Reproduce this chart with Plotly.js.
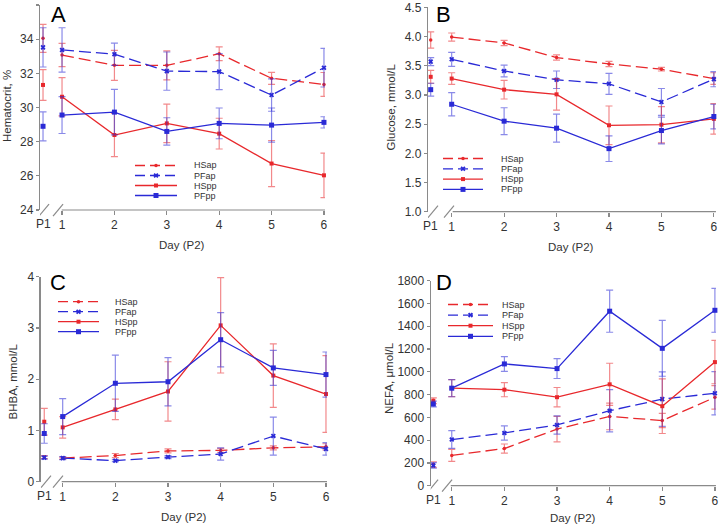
<!DOCTYPE html>
<html><head><meta charset="utf-8">
<script src="https://cdn.plot.ly/plotly-3.0.1.min.js"></script>
<style>html,body{margin:0;padding:0;background:#fff}#chart{width:720px;height:527px}</style>
</head><body><div id="chart"></div>
<script>
// ---------- data ----------
const days = [1, 2, 3, 4, 5, 6];
const dayLabels = ['1', '2', '3', '4', '5', '6'];
const p1Label = 'P1';
const seriesNames = ['HSap', 'PFap', 'HSpp', 'PFpp'];
// first value = P1, then days 1..6 of P2 ; *_se = error bar half-length
// Panel A: Hematocrit, %
const A_HSap = [34.05, 33.07, 32.47, 32.47, 33.15, 31.71, 31.35];
const A_HSap_se = [0.82, 0.68, 0.88, 0.85, 0.40, 0.35, 0.70];
const A_PFap = [33.52, 33.37, 33.12, 32.13, 32.10, 30.73, 32.33];
const A_PFap_se = [1.15, 1.30, 0.65, 1.12, 1.05, 0.95, 1.13];
const A_HSpp = [31.32, 30.63, 28.39, 29.07, 28.47, 26.72, 26.03];
const A_HSpp_se = [0.90, 1.12, 1.27, 1.13, 0.90, 1.35, 1.30];
const A_PFpp = [28.90, 29.56, 29.73, 28.60, 29.07, 28.97, 29.13];
const A_PFpp_se = [0.85, 1.08, 1.33, 0.80, 0.90, 1.00, 0.33];
// Panel B: Glucose, mmol/L
const B_HSap = [3.94, 3.99, 3.89, 3.64, 3.53, 3.44, 3.28];
const B_HSap_se = [0.14, 0.07, 0.045, 0.045, 0.045, 0.03, 0.10];
const B_PFap = [3.57, 3.61, 3.41, 3.26, 3.19, 2.88, 3.27];
const B_PFap_se = [0.07, 0.12, 0.10, 0.15, 0.18, 0.23, 0.13];
const B_HSpp = [3.31, 3.28, 3.09, 3.01, 2.48, 2.49, 2.59];
const B_HSpp_se = [0.11, 0.10, 0.16, 0.27, 0.33, 0.31, 0.26];
const B_PFpp = [3.09, 2.84, 2.55, 2.43, 2.08, 2.39, 2.63];
const B_PFpp_se = [0.11, 0.20, 0.23, 0.24, 0.22, 0.23, 0.21];
// Panel C: BHBA, mmol/L
const C_HSap = [0.48, 0.46, 0.51, 0.60, 0.61, 0.66, 0.68];
const C_HSap_se = [0.03, 0.02, 0.04, 0.04, 0.04, 0.04, 0.06];
const C_PFap = [0.47, 0.46, 0.41, 0.48, 0.54, 0.89, 0.64];
const C_PFap_se = [0.03, 0.03, 0.02, 0.03, 0.12, 0.37, 0.12];
const C_HSpp = [1.17, 1.06, 1.41, 1.76, 3.05, 2.07, 1.71];
const C_HSpp_se = [0.26, 0.21, 0.20, 0.58, 0.93, 0.62, 0.75];
const C_PFpp = [0.94, 1.27, 1.92, 1.95, 2.77, 2.22, 2.09];
const C_PFpp_se = [0.19, 0.35, 0.55, 0.47, 0.53, 0.34, 0.44];
// Panel D: NEFA, µmol/L
const D_HSap = [185, 266, 326, 497, 608, 572, 776];
const D_HSap_se = [25, 52, 40, 112, 117, 63, 103];
const D_PFap = [178, 405, 463, 533, 658, 760, 811];
const D_PFap_se = [25, 78, 63, 80, 185, 240, 190];
const D_HSpp = [746, 857, 843, 777, 890, 698, 1085];
const D_HSpp_se = [25, 75, 62, 85, 185, 240, 190];
const D_PFpp = [717, 856, 1069, 1028, 1532, 1206, 1540];
const D_PFpp_se = [25, 75, 65, 87, 185, 245, 193];

// ---------- styles / layout ----------
const RED = '#e8282c', BLUE = '#2a2ad6';
const RED_E = 'rgba(232,40,44,0.55)', BLUE_E = 'rgba(42,42,214,0.55)';
const FONT = 'Liberation Sans, Arial, sans-serif';
const AXC = '#8a8a8a';
const styles = {
  HSap: {color: RED, ecolor: RED_E, dash: '12px,5px', symbol: 'circle', size: 3.5},
  PFap: {color: BLUE, ecolor: BLUE_E, dash: '12px,5px', symbol: 'x', size: 4.5},
  HSpp: {color: RED, ecolor: RED_E, dash: 'solid', symbol: 'square', size: 4},
  PFpp: {color: BLUE, ecolor: BLUE_E, dash: 'solid', symbol: 'square', size: 5}
};
const panels = [
  {id: 'A', n: '', data: {HSap: [A_HSap, A_HSap_se], PFap: [A_PFap, A_PFap_se], HSpp: [A_HSpp, A_HSpp_se], PFpp: [A_PFpp, A_PFpp_se]},
   xdom: [0.0556, 0.4514], ydom: [0.6015, 0.9905], xr: [0.58, 6.02], yr: [24, 36], dtick: 2, fmt: '',
   p1: 0.637, brk: [0.656, 0.924], ytitle: 'Hematocrit, %', yt: [7, 106], xt: [182, 245], letter: [58, 15], leg: [135, 177, 192, 165.5, 10]},
  {id: 'B', n: '2', data: {HSap: [B_HSap, B_HSap_se], PFap: [B_PFap, B_PFap_se], HSpp: [B_HSpp, B_HSpp_se], PFpp: [B_PFpp, B_PFpp_se]},
   xdom: [0.5944, 0.9944], ydom: [0.5983, 0.9861], xr: [0.548, 6.04], yr: [1, 4.5], dtick: 0.5, fmt: '.1f',
   p1: 0.60, brk: [0.644, 0.949], ytitle: 'Glucose, mmol/L', yt: [390.5, 107], xt: [570.5, 247], letter: [443, 15], leg: [443, 483, 499, 158.5, 10.3]},
  {id: 'C', n: '3', data: {HSap: [C_HSap, C_HSap_se], PFap: [C_PFap, C_PFap_se], HSpp: [C_HSpp, C_HSpp_se], PFpp: [C_PFpp, C_PFpp_se]},
   xdom: [0.0565, 0.4542], ydom: [0.0860, 0.4750], xr: [0.582, 6.02], yr: [0, 4], dtick: 1, fmt: '',
   p1: 0.65, brk: [0.683, 0.911], ytitle: 'BHBA, mmol/L', yt: [12.5, 382], xt: [184, 516.5], letter: [58, 282], leg: [58, 99, 113, 301.7, 10]},
  {id: 'D', n: '4', data: {HSap: [D_HSap, D_HSap_se], PFap: [D_PFap, D_PFap_se], HSpp: [D_HSpp, D_HSpp_se], PFpp: [D_PFpp, D_PFpp_se]},
   xdom: [0.5982, 0.9944], ydom: [0.0784, 0.4674], xr: [0.60, 6.02], yr: [0, 1800], dtick: 200, fmt: '',
   p1: 0.65, brk: [0.645, 0.911], ytitle: 'NEFA, μmol/L', yt: [389, 378], xt: [573, 518], letter: [444, 282], leg: [448, 493, 500, 304.5, 10.6]}
];
const W = 720, H = 527;

const traces = [];
const layout = {
  width: W, height: H, margin: {l: 0, r: 0, t: 0, b: 0},
  paper_bgcolor: '#fff', plot_bgcolor: 'rgba(0,0,0,0)',
  showlegend: false, font: {family: FONT, color: '#333'},
  shapes: [], annotations: []
};

panels.forEach(p => {
  const xa = 'x' + p.n, ya = 'y' + p.n;
  layout['xaxis' + p.n] = {
    domain: p.xdom, anchor: ya, range: p.xr, showgrid: false, zeroline: false, showline: false,
    tickmode: 'array', tickvals: days, ticktext: dayLabels, ticks: 'outside', ticklen: 4, tickwidth: 1.2,
    tickcolor: AXC, tickfont: {family: FONT, size: 12, color: '#333'}, fixedrange: true
  };
  layout['yaxis' + p.n] = {
    domain: p.ydom, anchor: xa, range: p.yr, dtick: p.dtick, tick0: p.yr[0], tickformat: p.fmt,
    showgrid: false, zeroline: false, showline: true, linecolor: AXC, linewidth: 1.2,
    ticks: 'outside', ticklen: 3, tickwidth: 1.2, tickcolor: AXC,
    tickfont: {family: FONT, size: 12, color: '#333'}, fixedrange: true
  };
  seriesNames.forEach(s => {
    const st = styles[s];
    const vals = p.data[s][0], se = p.data[s][1];
    const eb = arr => ({type: 'data', array: arr, visible: true, color: st.ecolor, thickness: 1.2, width: 3.5});
    traces.push({
      type: 'scatter', mode: 'lines+markers', name: s, xaxis: xa, yaxis: ya,
      x: days, y: vals.slice(1), error_y: eb(se.slice(1)),
      line: {color: st.color, width: 1.3, dash: st.dash},
      marker: {color: st.color, symbol: st.symbol, size: st.size, line: {width: 0}},
      cliponaxis: false, hoverinfo: 'x+y'
    });
    traces.push({
      type: 'scatter', mode: 'markers', name: s + ' P1', xaxis: xa, yaxis: ya,
      x: [p.p1], y: vals.slice(0, 1), error_y: eb(se.slice(0, 1)),
      marker: {color: st.color, symbol: st.symbol, size: st.size, line: {width: 0}},
      cliponaxis: false, hoverinfo: 'y'
    });
  });
  // broken x axis: line from day 1 onward + two break marks
  layout.shapes.push({type: 'line', xref: xa, yref: 'paper', x0: p.brk[1] + 0.07, x1: p.xr[1],
    y0: p.ydom[0], y1: p.ydom[0], line: {color: AXC, width: 1.2}, layer: 'below'});
  p.brk.forEach(b => layout.shapes.push({type: 'line', xref: xa, yref: 'paper', xsizemode: 'pixel', ysizemode: 'pixel',
    xanchor: b, yanchor: p.ydom[0], x0: -5, x1: 5, y0: -6, y1: 6, line: {color: AXC, width: 1.2}}));
  // P1 tick label
  layout.annotations.push({text: p1Label, xref: xa, yref: 'paper', x: p.p1, y: p.ydom[0], yanchor: 'top',
    yshift: -5, showarrow: false, font: {family: FONT, size: 12, color: '#333'}});
  // axis titles
  layout.annotations.push({text: 'Day (P2)', xref: 'paper', yref: 'paper', x: p.xt[0] / W, y: 1 - p.xt[1] / H,
    xanchor: 'center', yanchor: 'middle', showarrow: false, font: {family: FONT, size: 11.5, color: '#333'}});
  layout.annotations.push({text: p.ytitle, xref: 'paper', yref: 'paper', x: p.yt[0] / W, y: 1 - p.yt[1] / H,
    xanchor: 'center', yanchor: 'middle', textangle: -90, showarrow: false, font: {family: FONT, size: 11.5, color: '#333'}});
  // panel letter
  layout.annotations.push({text: p.id, xref: 'paper', yref: 'paper', x: p.letter[0] / W, y: 1 - p.letter[1] / H,
    xanchor: 'center', yanchor: 'middle', showarrow: false, font: {family: FONT, size: 22, color: '#000'}});
  // hand-built compact legend (sample line + marker + label)
  const [lx0, lx1, tx, ly, dy] = p.leg;
  seriesNames.forEach((s, i) => {
    const st = styles[s], yy = ly + i * dy;
    traces.push({type: 'scatter', mode: 'lines', xaxis: 'x5', yaxis: 'y5', x: [lx0, lx1], y: [yy, yy],
      line: {color: st.color, width: 1.3, dash: st.dash === 'solid' ? 'solid' : '10px,5px'}, hoverinfo: 'skip', cliponaxis: false});
    traces.push({type: 'scatter', mode: 'markers', xaxis: 'x5', yaxis: 'y5', x: [(lx0 + lx1) / 2], y: [yy],
      marker: {color: st.color, symbol: st.symbol, size: st.size, line: {width: 0}}, hoverinfo: 'skip', cliponaxis: false});
    layout.annotations.push({text: s, xref: 'paper', yref: 'paper', x: tx / W, y: 1 - yy / H,
      xanchor: 'left', yanchor: 'middle', showarrow: false, font: {family: FONT, size: 9, color: '#333'}});
  });
});
layout.xaxis5 = {domain: [0, 1], range: [0, W], visible: false, anchor: 'y5', fixedrange: true};
layout.yaxis5 = {domain: [0, 1], range: [H, 0], visible: false, anchor: 'x5', fixedrange: true};

Plotly.newPlot('chart', traces, layout, {displayModeBar: false, staticPlot: true});
</script></body></html>
